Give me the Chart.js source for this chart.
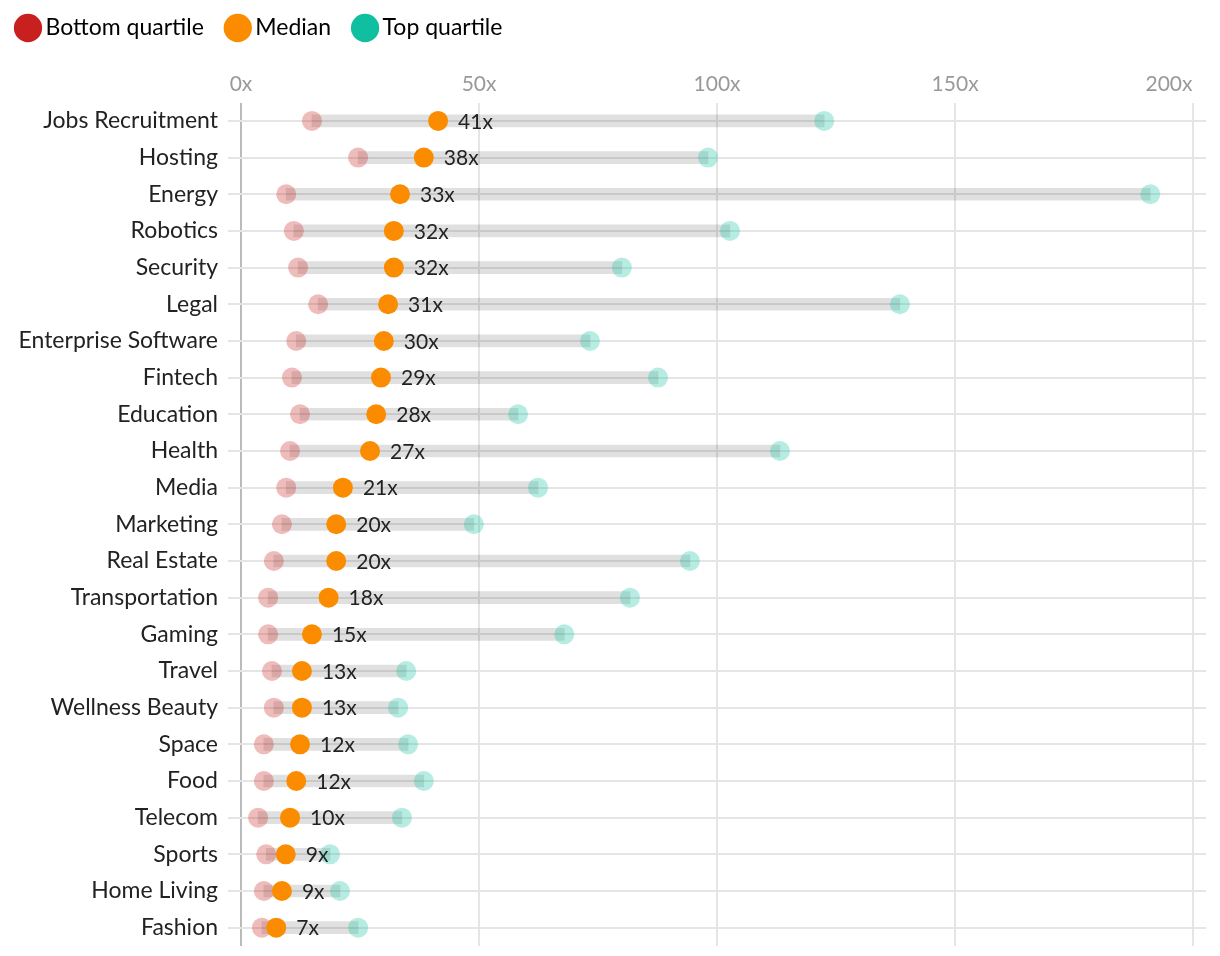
<!DOCTYPE html>
<html>
<head>
<meta charset="utf-8">
<script src="https://cdn.jsdelivr.net/npm/chart.js@4.4.1/dist/chart.umd.min.js"></script>
<style>
  html, body { margin: 0; padding: 0; background: #fff; }
  #wrap { width: 1220px; height: 956px; position: relative; }
</style>
</head>
<body>
<div id="wrap"><canvas id="chart"></canvas></div>
<script>
const categories = ['Jobs Recruitment', 'Hosting', 'Energy', 'Robotics', 'Security', 'Legal',
    'Enterprise Software', 'Fintech', 'Education', 'Health', 'Media', 'Marketing', 'Real Estate',
    'Transportation', 'Gaming', 'Travel', 'Wellness Beauty', 'Space', 'Food', 'Telecom', 'Sports',
    'Home Living', 'Fashion'];

const bottomQuartile = [14.9, 24.6, 9.5, 11.1, 12.0, 16.2, 11.6, 10.7, 12.4, 10.3, 9.5, 8.6, 6.9,
    5.7, 5.7, 6.5, 6.9, 4.8, 4.8, 3.6, 5.3, 4.8, 4.4];
const median = [41.4, 38.4, 33.4, 32.1, 32.1, 30.9, 30.0, 29.4, 28.4, 27.1, 21.4, 20.0, 20.0,
    18.4, 14.9, 12.8, 12.8, 12.4, 11.6, 10.3, 9.4, 8.6, 7.4];
const topQuartile = [122.5, 98.1, 191.0, 102.7, 80.0, 138.4, 73.3, 87.6, 58.2, 113.2, 62.4, 48.9,
    94.3, 81.7, 67.9, 34.7, 33.0, 35.1, 38.4, 33.8, 18.7, 20.8, 24.6];

const xTicks = [0, 50, 100, 150, 200];

const RED = '#c8201f';
const ORANGE = '#fb8c00';
const TEAL = '#0fbfa0';
const FONT = 'Lato, "Noto Sans", sans-serif';

Chart.defaults.font.family = FONT;

const toPoints = arr => arr.map((v, i) => ({ x: v, y: categories[i] }));

// last x tick label sits flush left of its gridline, pad it with spaces so centring shifts it
const measure = document.createElement('canvas').getContext('2d');
measure.font = '21px ' + FONT;
const padLast = txt => txt + ' '.repeat(Math.round(measure.measureText(txt).width / measure.measureText(' ').width));

const zeroPadding = scale => {
    scale.paddingTop = 0;
    scale.paddingBottom = 0;
    scale.paddingLeft = 0;
    scale.paddingRight = 0;
};

// median labels "41x" to the right of the orange dot
const medianLabels = {
    id: 'medianLabels',
    afterDatasetsDraw(chart) {
        const meta = chart.getDatasetMeta(2);
        const ctx = chart.ctx;
        ctx.save();
        ctx.font = '21px ' + FONT;
        ctx.fillStyle = '#222';
        ctx.textAlign = 'left';
        ctx.textBaseline = 'middle';
        meta.data.forEach((pt, i) => {
            ctx.fillText(Math.round(median[i]) + 'x', pt.x + 20, pt.y + 1);
        });
        ctx.restore();
    }
};

new Chart(document.getElementById('chart'), {
    data: {
        labels: categories,
        datasets: [
            {
                type: 'bar',
                label: 'range',
                data: bottomQuartile.map((b, i) => [b, topQuartile[i]]),
                backgroundColor: 'rgba(0,0,0,0.12)',
                barThickness: 12,
                order: 10,
            },
            {
                type: 'line',
                label: 'Bottom quartile',
                data: toPoints(bottomQuartile),
                showLine: false,
                pointRadius: 10,
                pointBackgroundColor: 'rgba(200,32,31,0.3)',
                pointBorderWidth: 0,
                order: 3,
            },
            {
                type: 'line',
                label: 'Median',
                data: toPoints(median),
                showLine: false,
                pointRadius: 10,
                pointBackgroundColor: ORANGE,
                pointBorderWidth: 0,
                order: 1,
            },
            {
                type: 'line',
                label: 'Top quartile',
                data: toPoints(topQuartile),
                showLine: false,
                pointRadius: 10,
                pointBackgroundColor: 'rgba(15,191,160,0.3)',
                pointBorderWidth: 0,
                order: 2,
            },
        ],
    },
    options: {
        indexAxis: 'y',
        responsive: true,
        maintainAspectRatio: false,
        animation: false,
        layout: { padding: { left: -6, right: 14, top: -11.5, bottom: -3 } },
        plugins: {
            tooltip: { enabled: false },
            legend: {
                position: 'top',
                align: 'start',
                labels: {
                    usePointStyle: true,
                    boxWidth: 12,
                    boxHeight: 20,
                    color: '#222',
                    padding: 28,
                    font: { size: 23 },
                    generateLabels: () => [
                        ['Bottom quartile', RED],
                        ['Median', ORANGE],
                        ['Top quartile', TEAL],
                    ].map(([text, c], i) => ({
                        text,
                        fillStyle: c,
                        strokeStyle: c,
                        lineWidth: 0,
                        pointStyle: 'circle',
                        datasetIndex: i + 1,
                    })),
                },
            },
        },
        scales: {
            x: {
                position: 'top',
                min: 0,
                max: 202.7,
                afterBuildTicks: axis => {
                    axis.ticks = xTicks.map(v => ({ value: v }));
                },
                afterFit: scale => {
                    scale.height = 53.1;
                    zeroPadding(scale);
                },
                border: { display: false },
                grid: {
                    color: c => (c.tick && c.tick.value === 0 ? '#bbb' : '#e5e5e5'),
                    lineWidth: 2,
                    drawTicks: false,
                },
                ticks: {
                    color: '#999',
                    font: { size: 21 },
                    padding: 6,
                    callback: (v, i) => (i === xTicks.length - 1 ? padLast(v + 'x') : v + 'x'),
                },
            },
            y: {
                type: 'category',
                offset: true,
                afterFit: scale => {
                    scale.width = 247;
                    zeroPadding(scale);
                },
                border: { display: false },
                grid: {
                    offset: false,
                    color: '#e5e5e5',
                    lineWidth: 2,
                    tickLength: 13,
                },
                ticks: {
                    color: '#222',
                    font: { size: 23 },
                    padding: 10,
                },
            },
        },
    },
    plugins: [medianLabels],
});
</script>
</body>
</html>
